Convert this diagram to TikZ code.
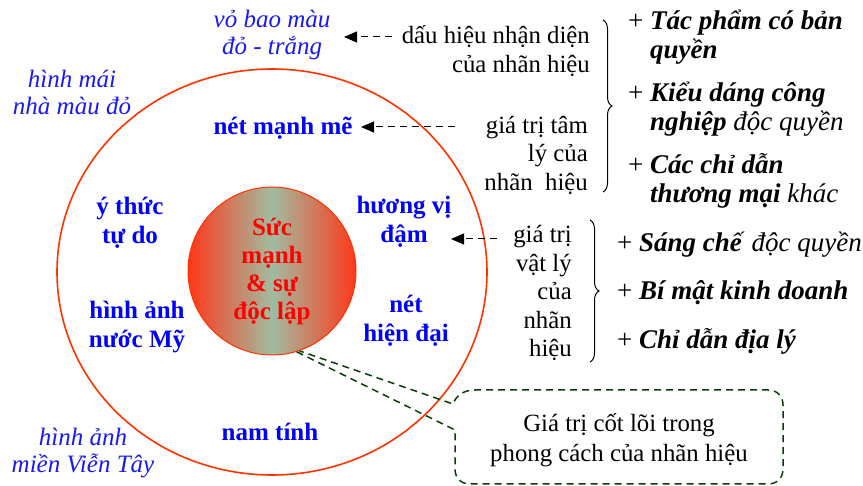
\documentclass[tikz,border=0pt]{standalone}
\usepackage{fontspec}
\setmainfont{Liberation Serif}
\usetikzlibrary{arrows.meta,decorations.pathreplacing,shapes.geometric}
\definecolor{ringred}{RGB}{255,51,0}
\definecolor{corered}{RGB}{255,55,25}
\definecolor{coremid}{RGB}{160,188,160}
\definecolor{txtblue}{RGB}{0,0,250}
\definecolor{itblue}{RGB}{25,25,240}
\definecolor{calloutgreen}{RGB}{10,60,10}
\begin{document}
\begin{tikzpicture}[x=1pt,y=-1pt,
  bluebold/.style={text=txtblue,font=\fontsize{25}{29}\selectfont\bfseries,align=center,inner sep=0pt},
  blueit/.style={text=itblue,font=\fontsize{25}{27}\selectfont\itshape,align=center,inner sep=0pt},
  plain/.style={align=right,anchor=east,inner sep=0pt,font=\fontsize{24.8}{28.5}\selectfont},
  item/.style={align=left,anchor=west,inner sep=0pt,font=\fontsize{27}{29}\selectfont},
  dasharrow/.style={draw=black,line width=1pt,dash pattern=on 7pt off 5pt,-{Triangle[length=13pt,width=11pt]}},
  bracestyle/.style={draw=black,line width=1pt,decorate,decoration={brace,amplitude=9pt}},
  calloutline/.style={draw=calloutgreen,line width=1.5pt,dash pattern=on 7pt off 5pt}]
\useasboundingbox (0,0) rectangle (863,486);
\newcommand{\bi}[1]{\textbf{\textit{#1}}}
% rings
\node[draw=ringred,line width=1.6pt,ellipse,minimum width=430pt,minimum height=406pt,inner sep=0pt] (outer) at (272,272) {};
\node[circle,draw=ringred,line width=1pt,minimum size=168pt,inner sep=0pt,
      left color=corered,right color=corered,middle color=coremid,
      text=red,font=\fontsize{25}{28}\selectfont\bfseries,align=center] (core) at (272,271) {Sức\\mạnh\\\& sự\\độc lập};
% blue labels
\node[blueit] (vo) at (272,35) {vỏ bao màu\\đỏ - trắng};
\node[blueit] (mai) at (72,92) {hình mái\\nhà màu đỏ};
\node[blueit] (vien) at (83,453) {hình ảnh\\miền Viễn Tây};
\node[bluebold] (manh) at (283,128) {nét mạnh mẽ};
\node[bluebold] (tudo) at (130,223) {ý thức\\tự do};
\node[bluebold] (my) at (137,327) {hình ảnh\\nước Mỹ};
\node[bluebold] (huong) at (404,222) {hương vị\\đậm};
\node[bluebold] (hiendai) at (406,321) {nét\\hiện đại};
\node[bluebold] (nam) at (270,432) {nam tính};
% right descriptions
\node[plain] (d1) at (590,51) {dấu hiệu nhận diện\\của nhãn hiệu};
\node[plain] (d2) at (588,155) {giá trị tâm\\lý của\\nhãn\ \ hiệu};
\node[plain] (d3) at (572,293) {giá trị\\vật lý\\của\\nhãn\\hiệu};
% arrows
\coordinate (a1s) at (392,37); \coordinate (a1e) at (344,37);
\coordinate (a2s) at (455,127); \coordinate (a2e) at (361,127);
\coordinate (a3s) at (497,239); \coordinate (a3e) at (451,239);
\draw[dasharrow] (a1s) -- (a1e);
\draw[dasharrow] (a2s) -- (a2e);
\draw[dasharrow] (a3s) -- (a3e);
% braces
\draw[bracestyle] (603,20) -- (603,192);
\draw[bracestyle] (590,220) -- (590,362);
% items
\node[item] (i1) at (628,37.5) {+ \bi{Tác phẩm có bản}\\\hphantom{+ }\bi{quyền}};
\node[item] (i2) at (628,109.5) {+ \bi{Kiểu dáng công}\\\hphantom{+ }\bi{nghiệp} \textit{độc quyền}};
\node[item] (i3) at (628,180.5) {+ \bi{Các chỉ dẫn}\\\hphantom{+ }\bi{thương mại} \textit{khác}};
\node[item] (j1) at (617,245) {+ \bi{Sáng chế} \textit{độc quyền}};
\node[item] (j2) at (617,293) {+ \bi{Bí mật kinh doanh}};
\node[item] (j3) at (617,341) {+ \bi{Chỉ dẫn địa lý}};
% callout
\node[align=center,inner sep=0pt,font=\fontsize{24.8}{30}\selectfont] (cv) at (619,440) {Giá trị cốt lõi trong\\phong cách của nhãn hiệu};
\draw[calloutline] (core.-73) -- (455,430) -- (455,469) .. controls (455,478) and (461,484) .. (470,484)
  -- (768,484) .. controls (777,484) and (783,478) .. (783,469)
  -- (783,405) .. controls (783,396) and (777,390) .. (768,390)
  -- (475,390) .. controls (463,390) and (456,396) .. (453,404) -- (core.-71);
\end{tikzpicture}
\end{document}
